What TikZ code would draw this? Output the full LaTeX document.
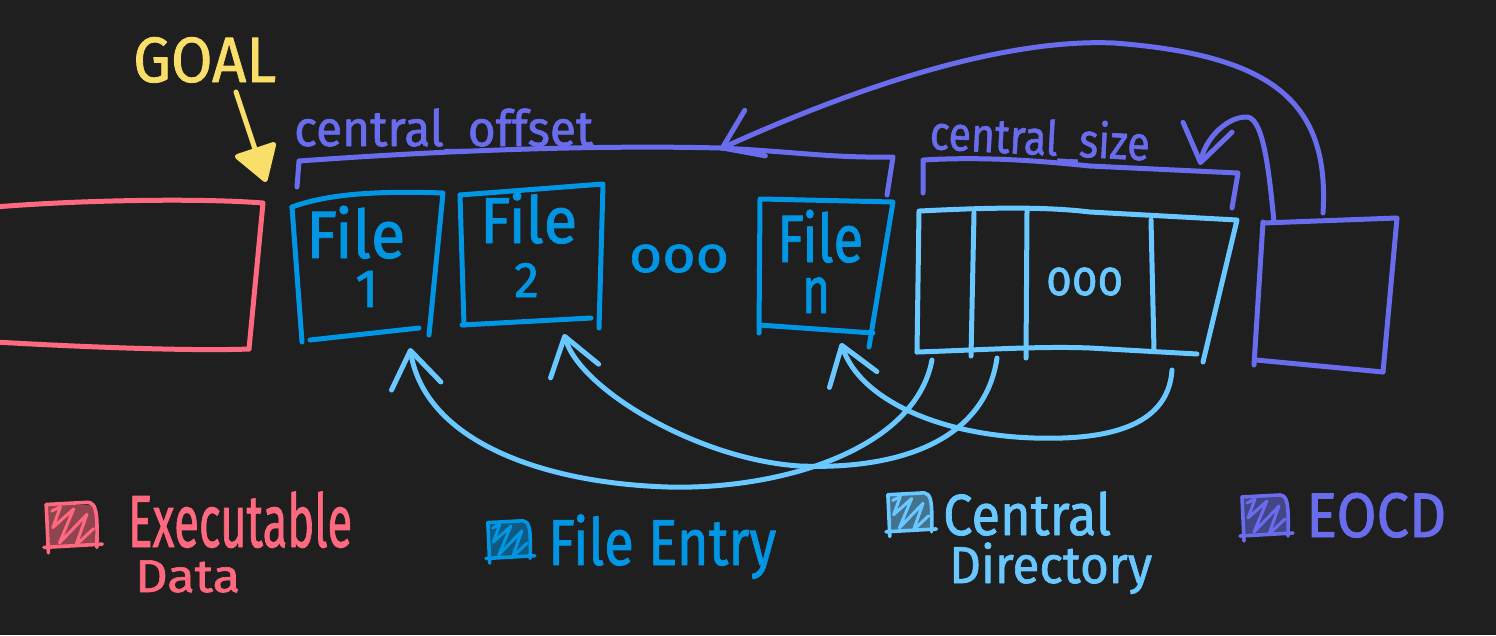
\documentclass[tikz,border=0pt]{standalone}
\usepackage{fontspec}
\setmainfont{Fira Sans}[FakeBold=1.3]
\usetikzlibrary{arrows.meta}
\definecolor{bgc}{RGB}{31,31,31}
\definecolor{pinkc}{RGB}{255,105,128}
\definecolor{yelc}{RGB}{250,222,106}
\definecolor{purc}{RGB}{104,108,237}
\definecolor{filec}{RGB}{0,150,228}
\definecolor{cdc}{RGB}{104,200,255}
\newcommand\setfs[1]{\fontsize{#1}{#1}\selectfont}
\newsavebox\mybxA
\newsavebox\mybxB
\newlength\mytmpskip
% {line 1}{line 2}{baseline distance}{indent of line 2}
\newcommand\twolines[4]{%
  \sbox\mybxA{#1}\sbox\mybxB{#2}%
  \setlength\mytmpskip{#3}%
  \addtolength\mytmpskip{-\dp\mybxA}\addtolength\mytmpskip{-\ht\mybxB}%
  \vtop{\offinterlineskip\hbox{\usebox\mybxA}\vskip\mytmpskip\hbox{\hskip#4\usebox\mybxB}}}
\tikzset{
  lgicon/.pic={
    \fill[opacity=0.5] (3,5) rectangle (47,43);
    \draw[line width=3.6pt] (2,5) -- (40,3) .. controls (47,4) and (49,10) .. (48,44);
    \draw[line width=3.6pt] (2,5) -- (4,49);
    \draw[line width=3.6pt] (0,44) -- (53,41);
    \draw[line width=3pt] (7,11) -- (15,7) -- (8,26) -- (27,9) -- (14,40) -- (39,14) -- (29,42) -- (45,27);
  }
}
\begin{document}
\begin{tikzpicture}[x=1pt,y=-1pt,line cap=round,line join=round,
  stroke/.style={line width=5pt},
  barb/.style={-{Straight Barb[length=36pt,width=50pt,round]}},
  lbl/.style={inner sep=0pt,anchor=base west}]
\fill[bgc] (0,0) rectangle (1496,635);
\useasboundingbox (0,0) rectangle (1496,635);

% ---------- executable data block
\draw[stroke,pinkc] (-5,207) .. controls (80,200) and (200,198) .. (263,203) -- (249,349);
\draw[stroke,pinkc] (-5,342) .. controls (100,348) and (200,351) .. (249,349);

% ---------- file entries
\draw[stroke,filec] (292,207) .. controls (320,197) and (360,190) .. (443,193) -- (429,335);
\draw[stroke,filec] (292,207) -- (302,342);
\draw[stroke,filec] (310,340) -- (419,328);
\draw[stroke,filec] (460,195) -- (603,184) -- (599,328);
\draw[stroke,filec] (460,195) -- (464,325);
\draw[stroke,filec] (462,325) -- (591,318);
\draw[stroke,filec] (762,199) -- (893,202) -- (869,347);
\draw[stroke,filec] (760,199) -- (759,333);
\draw[stroke,filec] (759,325) -- (873,333);

\node[lbl,text=filec] (f1) at (306,258) {\twolines{\resizebox{99pt}{\height}{\setfs{67}File}}{\setfs{54}1}{49pt}{49pt}};
\node[lbl,text=filec] (f2) at (480,243) {\twolines{\resizebox{97pt}{\height}{\setfs{65}File}}{\setfs{50}2}{54pt}{34pt}};
\node[lbl,text=filec] (fn) at (777,262) {\twolines{\resizebox{86pt}{\height}{\setfs{67}File}}{\resizebox{28pt}{\height}{\setfs{66}n}}{51pt}{25pt}};
\node[anchor=base,inner sep=0pt,text=filec] (dots1) at (679,272) {\resizebox{100pt}{\height}{\setfs{51}ooo}};

% ---------- central directory
\draw[stroke,cdc] (920,211) .. controls (980,208) and (1040,206) .. (1090,212) -- (1237,220) -- (1203,362);
\draw[stroke,cdc] (919,211) -- (917,352);
\draw[stroke,cdc] (917,352) .. controls (980,350) and (1040,346) .. (1090,348) -- (1197,354);
\draw[stroke,cdc] (974,213) -- (971,356);
\draw[stroke,cdc] (1027,211) -- (1026,358);
\draw[stroke,cdc] (1151,220) -- (1154,350);
\node[lbl,text=cdc] (dots2) at (1046,295) {\resizebox{77pt}{\height}{\setfs{51}ooo}};

% ---------- EOCD
\draw[stroke,purc] (1263,223) -- (1397,218) -- (1383,372);
\draw[stroke,purc] (1263,222) -- (1254,365);
\draw[stroke,purc] (1256,360) -- (1383,372);

% ---------- brackets and labels
\draw[stroke,purc] (297,187) -- (299,161) .. controls (450,150) and (600,145) .. (720,148) .. controls (800,152) and (830,158) .. (893,157) -- (887,195);
\draw[stroke,purc] (923,193) -- (923,160) .. controls (990,156) and (1050,162) .. (1090,166) -- (1238,173) -- (1232,208);
\node[lbl,text=purc] (coff) at (294,146) {\resizebox{299pt}{\height}{\setfs{50}central\_offset}};
\node[lbl,text=purc,rotate=-3] (csize) at (929,149) {\resizebox{220pt}{\height}{\setfs{48}central\_size}};

% ---------- connector end points
\coordinate (eocdA) at (1323,213);
\coordinate (eocdB) at (1274,222);
\coordinate (offtip) at (720,149);
\coordinate (sizetip) at (1200,165);
\coordinate (cd1) at (932,360);
\coordinate (cd2) at (997,358);
\coordinate (cd3) at (1172,370);
\coordinate (f1in) at (410,348);
\coordinate (f2in) at (564,334);
\coordinate (fnin) at (841,343);
\coordinate (goalfrom) at (236,92);
\coordinate (goaltip) at (266,182);

% ---------- purple arrows
\draw[stroke,purc,barb] (eocdA) .. controls (1330,100) and (1270,55) .. (1114,43) .. controls (1000,38) and (850,90) .. (offtip);
\draw[stroke,purc,barb] (eocdB) .. controls (1268,160) and (1262,115) .. (1245,117) .. controls (1225,118) and (1205,140) .. (sizetip);

% ---------- light blue arrows
\draw[stroke,cdc,barb] (cd1) .. controls (915,450) and (780,490) .. (668,487) .. controls (540,483) and (425,440) .. (f1in);
\draw[stroke,cdc,barb] (cd2) .. controls (985,440) and (900,470) .. (800,466) .. controls (700,460) and (580,390) .. (f2in);
\draw[stroke,cdc,barb] (cd3) .. controls (1168,430) and (1100,440) .. (1034,438) .. controls (940,435) and (860,400) .. (fnin);

% ---------- goal
\node[lbl,text=yelc] (goal) at (133,82) {\resizebox{143pt}{\height}{\setfs{64}GOAL}};
\draw[stroke,yelc,-{Triangle[length=38pt,width=46pt,round]}] (goalfrom) -- (goaltip);

% ---------- legend
\pic[color=pinkc,scale=1.1] (lg1) at (44,499) {lgicon};
\node[lbl,text=pinkc] (exec) at (128,547) {\twolines{\resizebox{224pt}{\height}{\setfs{74}Executable}}{\resizebox{105pt}{\height}{\setfs{46}Data}}{45pt}{7pt}};
\pic[color=filec,scale=0.92] (lg2) at (486,518) {lgicon};
\node[lbl,text=filec] (fe) at (548,565) {\resizebox{228pt}{\height}{\setfs{65}File Entry}};
\pic[color=cdc,scale=0.95] (lg3) at (886,490) {lgicon};
\node[lbl,text=cdc] (cen) at (943,535) {\twolines{\resizebox{168pt}{\height}{\setfs{58}Central}}{\resizebox{203pt}{\height}{\setfs{52}Directory}}{48pt}{6pt}};
\pic[color=purc,scale=1.0] (lg4) at (1240,492) {lgicon};
\node[lbl,text=purc] (eocd) at (1306,537) {\resizebox{140pt}{\height}{\setfs{63}EOCD}};
\end{tikzpicture}
\end{document}
